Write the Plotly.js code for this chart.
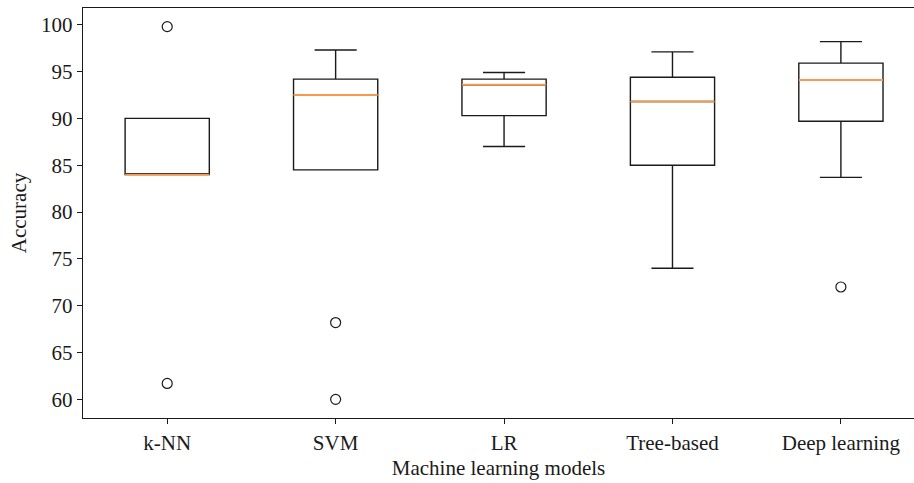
<!DOCTYPE html>
<html>
<head>
<meta charset="utf-8">
<script src="https://cdn.plot.ly/plotly-3.0.1.min.js"></script>
<style>html,body{margin:0;padding:0;background:#fff;}#chart{width:914px;height:483px;}</style>
</head>
<body>
<div id="chart"></div>
<script>
// Categories and box statistics
const models = ["k-NN", "SVM", "LR", "Tree-based", "Deep learning"];
const positions = [1, 2, 3, 4, 5];
const q1 = [84.0, 84.5, 90.3, 85.0, 89.7];
const medians = [84.0, 92.5, 93.6, 91.8, 94.1];
const q3 = [90.0, 94.2, 94.2, 94.4, 95.9];
const lowerWhisker = [84.0, 84.5, 87.0, 74.0, 83.7];
const upperWhisker = [90.0, 97.3, 94.9, 97.1, 98.2];
const outlierModel = [1, 1, 2, 2, 5];
const outlierValues = [99.8, 61.7, 68.2, 60.0, 72.0];
const yTicks = [60, 65, 70, 75, 80, 85, 90, 95, 100];

const FONT = "'Liberation Serif', 'Times New Roman', serif";
const boxWidth = 0.5;

const boxTrace = {
  type: "box",
  x: positions,
  q1: q1,
  median: medians,
  q3: q3,
  lowerfence: lowerWhisker,
  upperfence: upperWhisker,
  width: boxWidth,
  whiskerwidth: 0.5,
  boxpoints: false,
  line: {color: "#1a1a1a", width: 1.4},
  fillcolor: "rgba(255,255,255,0)",
  hoverinfo: "skip",
  showlegend: false
};

// orange median lines
const medX = [], medY = [];
positions.forEach((p, i) => {
  medX.push(p - boxWidth / 2, p + boxWidth / 2, null);
  medY.push(medians[i], medians[i], null);
});
const medianTrace = {
  type: "scatter", mode: "lines", x: medX, y: medY,
  line: {color: "#f59a4e", width: 1.8},
  hoverinfo: "skip", showlegend: false
};

const outlierTrace = {
  type: "scatter", mode: "markers",
  x: outlierModel, y: outlierValues,
  marker: {symbol: "circle-open", size: 10, color: "#1a1a1a", line: {width: 1.2, color: "#1a1a1a"}},
  hoverinfo: "skip", showlegend: false
};

const layout = {
  width: 914, height: 483,
  margin: {l: 83, r: 0, t: 8, b: 65},
  paper_bgcolor: "#fff", plot_bgcolor: "#fff",
  font: {family: FONT, size: 21, color: "#1a1a1a"},
  xaxis: {
    range: [0.5, 5.434],
    tickmode: "array", tickvals: positions, ticktext: models,
    ticks: "outside", ticklen: 5, tickwidth: 1, tickcolor: "#1a1a1a",
    showline: true, linecolor: "#1a1a1a", linewidth: 1.4, mirror: true,
    showgrid: false, zeroline: false,
    title: {text: "Machine learning models", font: {family: FONT, size: 21}, standoff: 6}
  },
  yaxis: {
    range: [58.01, 101.79],
    tickmode: "array", tickvals: yTicks,
    ticks: "outside", ticklen: 5, tickwidth: 1, tickcolor: "#1a1a1a",
    showline: true, linecolor: "#1a1a1a", linewidth: 1.4,
    showgrid: false, zeroline: false,
    title: {text: "Accuracy", font: {family: FONT, size: 21}, standoff: 8}
  }
};

Plotly.newPlot("chart", [boxTrace, medianTrace, outlierTrace], layout, {displayModeBar: false, staticPlot: true});
</script>
</body>
</html>
